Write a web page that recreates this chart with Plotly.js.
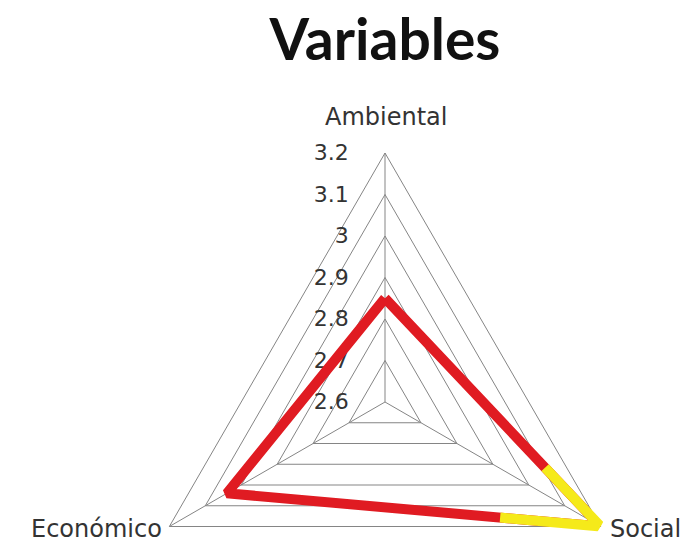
<!DOCTYPE html>
<html>
<head>
<meta charset="utf-8">
<script src="https://cdn.plot.ly/plotly-3.0.1.min.js"></script>
<style>
  body { margin: 0; background: #fff; }
  #wrap { width: 689px; height: 548px; overflow: hidden; }
</style>
</head>
<body>
<div id="wrap"><div id="chart"></div></div>
<script>
// Kategorien und Werte
const kategorien = ["Ambiental", "Social", "Económico"];
const werteRot = [2.85, 3.2, 3.04];

// gelber Abschnitt an der Ecke "Social" (Winkel im Uhrzeigersinn ab oben)
const gelbWinkel = [112.3, 120, 135.1];
const gelbWerte = [3.017, 3.2, 2.993];

const radialTicks = [2.6, 2.7, 2.8, 2.9, 3.0, 3.1, 3.2];
const radialText = ["2.6", "2.7", "2.8", "2.9", "3", "3.1", "3.2"];

const H = 700; // etwas hoeher als das Fenster, unten abgeschnitten
const grau = "#858585";
const schrift = { family: "DejaVu Sans", size: 24, color: "#333" };

const data = [
  {
    type: "scatterpolar",
    r: werteRot.concat([werteRot[0]]),
    theta: kategorien.concat([kategorien[0]]),
    mode: "lines",
    line: { color: "#e01b22", width: 10 },
    subplot: "polar",
    hoverinfo: "skip",
  },
  {
    type: "scatterpolar",
    r: gelbWerte,
    theta: gelbWinkel,
    mode: "lines",
    line: { color: "#f5ea1a", width: 10 },
    subplot: "polar2",
    hoverinfo: "skip",
  },
];

const dom = {
  x: [(385 - 249) / 689, (385 + 249) / 689],
  y: [(H - 402 - 249) / H, (H - 402 + 249) / H],
};

// Achsenbeschriftungen als Annotationen (Pixel ab oben links)
const beschriftung = [
  { text: kategorien[0], x: 386, y: 117, xanchor: "center" },
  { text: kategorien[1], x: 608, y: 529, xanchor: "left" },
  { text: kategorien[2], x: 164, y: 529, xanchor: "right" },
].map((b) => ({
  text: b.text,
  xref: "paper",
  yref: "paper",
  x: b.x / 689,
  y: 1 - b.y / H,
  xanchor: b.xanchor,
  yanchor: "middle",
  showarrow: false,
  font: schrift,
}));

const layout = {
  width: 689,
  height: H,
  margin: { t: 0, r: 0, b: 0, l: 0 },
  paper_bgcolor: "#fff",
  showlegend: false,
  title: {
    text: "<b>Variables</b>",
    font: { family: "Lato", size: 57, color: "#111" },
    xref: "container",
    yref: "container",
    x: 385 / 689,
    xanchor: "center",
    y: 1 - 40 / H,
    yanchor: "middle",
  },
  annotations: beschriftung,
  polar: {
    domain: dom,
    gridshape: "linear",
    bgcolor: "rgba(0,0,0,0)",
    radialaxis: {
      range: [2.6, 3.2],
      tickvals: radialTicks,
      ticktext: radialText,
      angle: 90,
      tickangle: 90,
      side: "counterclockwise",
      ticks: "outside",
      ticklen: 28,
      tickcolor: "rgba(0,0,0,0)",
      showline: false,
      gridcolor: grau,
      gridwidth: 1,
      layer: "below traces",
      tickfont: { family: "DejaVu Sans", size: 22, color: "#333" },
    },
    angularaxis: {
      type: "category",
      categoryarray: kategorien,
      rotation: 90,
      direction: "clockwise",
      showline: true,
      linecolor: grau,
      linewidth: 1,
      gridcolor: grau,
      ticks: "",
      showticklabels: false,
      layer: "below traces",
    },
  },
  polar2: {
    domain: dom,
    bgcolor: "rgba(0,0,0,0)",
    radialaxis: {
      range: [2.6, 3.2],
      visible: false,
    },
    angularaxis: {
      rotation: 90,
      direction: "clockwise",
      visible: false,
    },
  },
};

Plotly.newPlot("chart", data, layout, { staticPlot: true });
</script>
</body>
</html>
